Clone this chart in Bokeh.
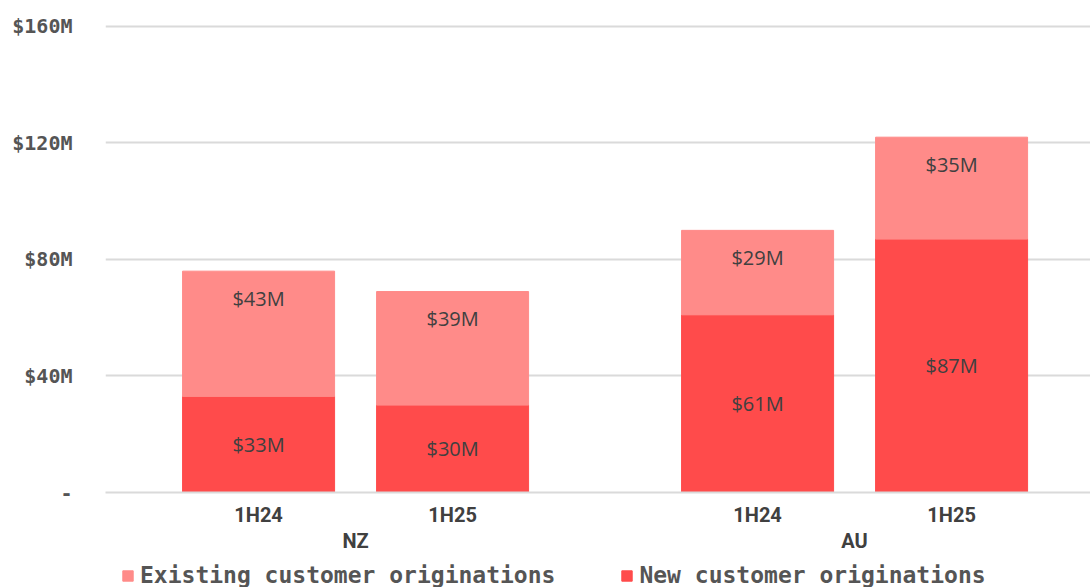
from bokeh.plotting import figure
from bokeh.layouts import column
from bokeh.models import ColumnDataSource, Range1d, FixedTicker, LinearAxis, Legend, LegendItem
from bokeh.core.properties import value
from bokeh.embed import file_html
from bokeh.resources import INLINE

# ---- data ----
regions = ["NZ", "NZ", "AU", "AU"]
periods = ["1H24", "1H25", "1H24", "1H25"]
new_customer = [33, 30, 61, 87]
existing_customer = [43, 39, 29, 35]
y_ticks = [0, 40, 80, 120, 160]
y_tick_labels = ["-", "$40M", "$80M", "$120M", "$160M"]
series_names = ["Existing customer originations", "New customer originations"]

# ---- styles ----
NEW_COLOR = "#FF4B4B"
EXIST_COLOR = "#FF8B89"
GRID_COLOR = "#DADADA"
MONO = "DejaVu Sans Mono"

group_order = ["NZ", "AU"]
period_order = ["1H24", "1H25"]
GROUP_STEP = 2.572  # distance between groups, in bar-slot units

x = [group_order.index(r) * GROUP_STEP + period_order.index(pp) for r, pp in zip(regions, periods)]
group_centers = [sum(xx for xx, r in zip(x, regions) if r == g) / regions.count(g) for g in group_order]
total = [n + e for n, e in zip(new_customer, existing_customer)]

src = ColumnDataSource(dict(
    x=x,
    new=new_customer,
    existing=existing_customer,
    total=total,
    new_mid=[n / 2 for n in new_customer],
    new_lbl=[f"${v}M" for v in new_customer],
    exist_lbl=[f"${v}M" for v in existing_customer],
))

p = figure(
    frame_width=985, frame_height=472,
    x_range=Range1d(-0.789, 4.288), y_range=Range1d(0, 162.06),
    output_backend="svg", toolbar_location=None,
    min_border_left=105, min_border_right=0, min_border_top=20, min_border_bottom=68,
)
p.outline_line_color = None
p.background_fill_color = "white"
p.border_fill_color = "white"

BAR_W = 0.7835
r_new = p.vbar(x="x", width=BAR_W, bottom=0, top="new", source=src,
               fill_color=NEW_COLOR, line_color=NEW_COLOR)
r_exist = p.vbar(x="x", width=BAR_W, bottom="new", top="total", source=src,
                 fill_color=EXIST_COLOR, line_color=EXIST_COLOR)

p.text(x="x", y="new_mid", text="new_lbl", source=src,
       text_align="center", text_baseline="middle",
       text_font=value("Open Sans"), text_font_size="20px", text_color="#404040")
p.text(x="x", y="total", text="exist_lbl", source=src, y_offset=27,
       text_align="center", text_baseline="middle",
       text_font=value("Open Sans"), text_font_size="20px", text_color="#404040")

# grid
p.xgrid.visible = False
p.ygrid.ticker = FixedTicker(ticks=y_ticks)
p.ygrid.grid_line_color = GRID_COLOR
p.ygrid.grid_line_width = 2

# y axis
ya = p.yaxis[0]
ya.ticker = FixedTicker(ticks=y_ticks)
ya.major_label_overrides = {t: l for t, l in zip(y_ticks, y_tick_labels)}
ya.axis_line_color = None
ya.major_tick_line_color = None
ya.minor_tick_line_color = None
ya.major_label_standoff = 27
ya.major_label_text_font = MONO
ya.major_label_text_font_style = "bold"
ya.major_label_text_font_size = "20px"
ya.major_label_text_color = "#555555"

# x axis (periods)
xa = p.xaxis[0]
xa.ticker = FixedTicker(ticks=x)
xa.major_label_overrides = {t: l for t, l in zip(x, periods)}
xa.axis_line_color = GRID_COLOR
xa.axis_line_width = 2
xa.major_tick_line_color = None
xa.minor_tick_line_color = None
xa.major_tick_out = 0
xa.major_tick_in = 0
xa.minor_tick_out = 0
xa.axis_label_standoff = 0
xa.major_label_standoff = 10
xa.major_label_text_font = "Roboto"
xa.major_label_text_font_style = "bold"
xa.major_label_text_font_size = "20px"
xa.major_label_text_color = "#404040"

# x axis (regions)
xa2 = LinearAxis(ticker=FixedTicker(ticks=group_centers),
                 major_label_overrides={t: l for t, l in zip(group_centers, group_order)})
xa2.axis_line_color = None
xa2.major_tick_line_color = None
xa2.minor_tick_line_color = None
xa2.major_tick_out = 0
xa2.major_tick_in = 0
xa2.minor_tick_out = 0
xa2.axis_label_standoff = 0
xa2.major_label_standoff = -1
xa2.major_label_text_font = "Roboto"
xa2.major_label_text_font_style = "bold"
xa2.major_label_text_font_size = "20px"
xa2.major_label_text_color = "#404040"
p.add_layout(xa2, "below")

# ---- legend strip (separate small figure below the chart) ----
lf = figure(width=1090, height=28, x_range=Range1d(0, 1), y_range=Range1d(0, 1),
            x_axis_location=None, y_axis_location=None,
            output_backend="svg", toolbar_location=None,
            min_border_left=0, min_border_right=0, min_border_top=0, min_border_bottom=0)
lf.outline_line_color = None
lf.grid.visible = False
lf.border_fill_color = "white"
lf.background_fill_color = "white"
# swatch renderers: zero-size and fully transparent, used only to give the legend keys
swatch = ColumnDataSource(dict(x=[0.5], top=[0]))
l_exist = lf.vbar(x="x", top="top", width=0, source=swatch,
                  fill_color=EXIST_COLOR, line_color=EXIST_COLOR)
l_new = lf.vbar(x="x", top="top", width=0, source=swatch,
                fill_color=NEW_COLOR, line_color=NEW_COLOR)

legend = Legend(items=[LegendItem(label=series_names[0], renderers=[l_exist]),
                       LegendItem(label=series_names[1], renderers=[l_new])],
                orientation="horizontal", location=(16, 0))
legend.glyph_width = 13
legend.glyph_height = 13
legend.label_height = 26
legend.label_standoff = 6
legend.spacing = 65
legend.padding = 0
legend.margin = 0
legend.border_line_color = None
legend.background_fill_alpha = 0
legend.label_text_font = MONO
legend.label_text_font_style = "bold"
legend.label_text_font_size = "23px"
legend.label_text_color = "#555555"
lf.add_layout(legend, "center")

open("out.html", "w").write(file_html(column(p, lf, spacing=0), INLINE))
